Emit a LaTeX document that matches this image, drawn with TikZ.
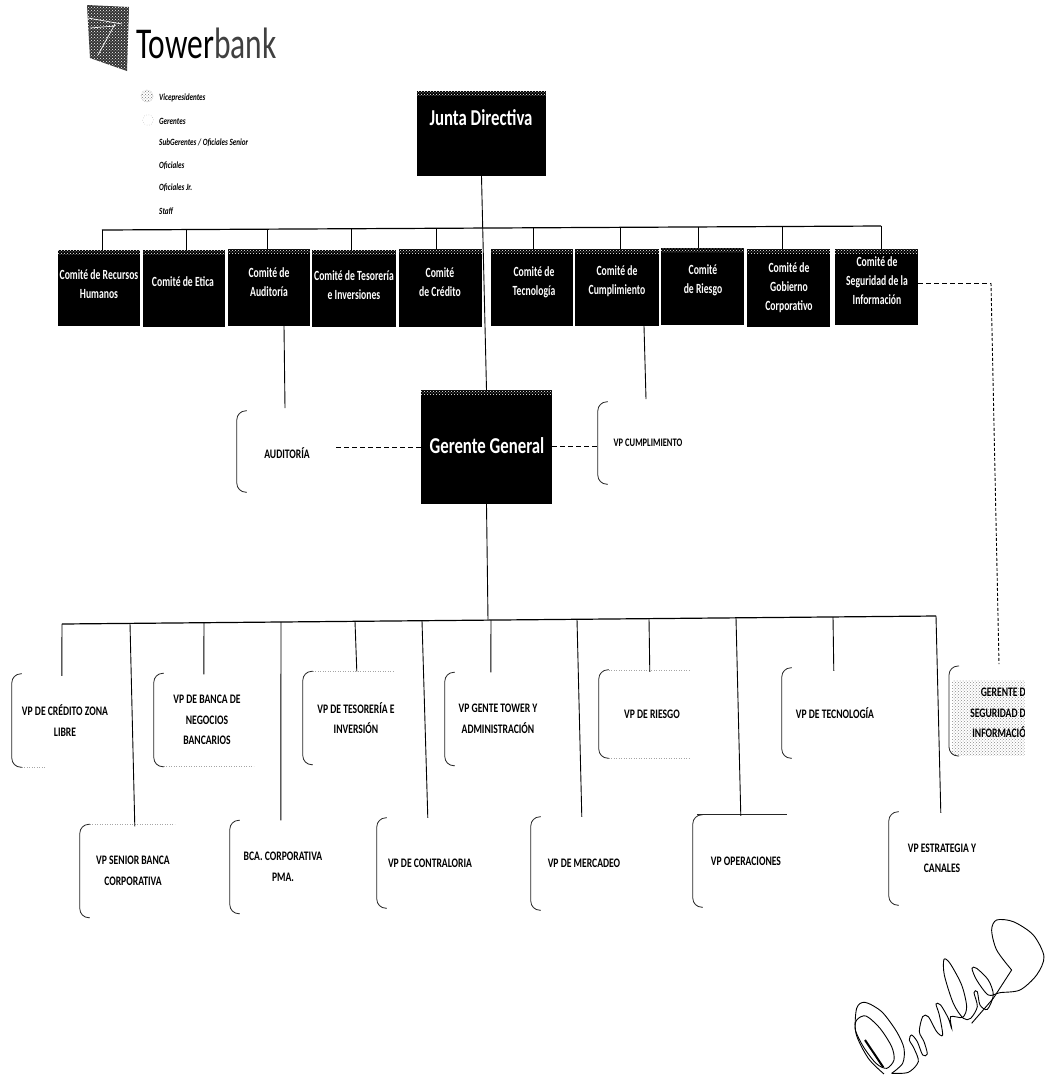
\documentclass[tikz,border=0pt]{standalone}
\usepackage{fontspec}
\usepackage{tikz}
\usetikzlibrary{patterns,calc}
\setmainfont{Carlito}
\newfontfamily\condf[FakeStretch=0.75]{Carlito}
\newfontfamily\condb[FakeStretch=0.74]{Carlito}
\newfontfamily\condc[FakeStretch=0.69]{Carlito}
\newfontfamily\logof[FakeStretch=0.715]{Carlito}
\tikzset{
  blackbox/.style={fill=black,text=white,inner sep=0pt,align=center,font=\fontsize{14}{19}\selectfont\condc\bfseries},
  bigbox/.style={fill=black,text=white,inner sep=0pt,align=center,font=\fontsize{22.7}{24}\selectfont\condb\bfseries},
  vpbox/.style={inner sep=0pt,align=center,minimum width=106pt,minimum height=93pt,font=\fontsize{13}{20.5}\selectfont\condb\bfseries},
  conn/.style={line width=0.9pt,black},
  bus/.style={line width=1.2pt,black},
  dash line/.style={line width=1pt,dash pattern=on 5pt off 3pt,black},
  bracket/.style={line width=0.8pt,black!85,rounded corners=9pt},
  faint/.style={line width=0.5pt,black!35,dotted},
  legend/.style={inner sep=0pt,anchor=west,font=\fontsize{9.5}{11}\selectfont\condf\bfseries\itshape},
  sig/.style={line width=0.9pt,black}
}
\newcommand{\brk}[1]{%
  \draw[bracket] ([xshift=10pt]#1.north west) -- (#1.north west) -- (#1.south west) -- ([xshift=10pt]#1.south west);}
\newcommand{\bkband}[1]{%
  \fill[pattern=crosshatch dots,pattern color=white] (#1.north west) rectangle ([yshift=-5pt]#1.north east);}
\begin{document}
\begin{tikzpicture}[x=1pt,y=-1pt]
\useasboundingbox (0,0) rectangle (1045,1080);
\fill[white] (0,0) rectangle (1045,1080);

% logo
\fill[black!80] (87,5) -- (129,7) -- (127,71) -- (90,58) -- cycle;
\fill[pattern=crosshatch dots,pattern color=white] (87,5) -- (129,7) -- (127,71) -- (90,58) -- cycle;
\draw[white,line width=0.7pt] (88,18) -- (122,24) (90,28) -- (115,26) (98,55) -- (115,24);
\node[inner sep=0pt,anchor=base west,font=\fontsize{44}{45}\selectfont\logof] (logo) at (136,58) {Tower\textcolor{black!75}{bank}};

% legend
\node[circle,minimum size=12pt,inner sep=0pt,draw=black!45,densely dotted,pattern=crosshatch dots,pattern color=black!55] (l1) at (147,96) {};
\node[circle,minimum size=11pt,inner sep=0pt,draw=black!45,dotted] (l2) at (148,120) {};
\node[legend] (t1) at (159,98) {Vicepresidentes};
\node[legend] (t2) at (159,121) {Gerentes};
\node[legend] (t3) at (159,143) {SubGerentes / Oficiales Senior};
\node[legend] (t4) at (159,166) {Oficiales};
\node[legend] (t5) at (159,188) {Oficiales Jr.};
\node[legend] (t6) at (159,211) {Staff};

% top boxes
\node[bigbox,minimum width=129pt,minimum height=85pt] (jd) at (481.5,133.5) {};
\node[bigbox] (jdt) at (481,118) {Junta Directiva};
\node[bigbox,minimum width=131pt,minimum height=114pt] (gg) at (486.5,447) {};
\node[bigbox] (ggt) at (487,446) {Gerente General};

% committees
\node[blackbox,minimum width=82pt,minimum height=76pt] (c1) at (99,288) {};
\node[blackbox] at (99,284) {Comité de Recursos\\Humanos};
\node[blackbox,minimum width=82pt,minimum height=77pt] (c2) at (184,288.5) {};
\node[blackbox] at (183,282) {Comité de Etica};
\node[blackbox,minimum width=82pt,minimum height=77pt] (c3) at (269,287.5) {};
\node[blackbox] at (269,282) {Comité de\\Auditoría};
\node[blackbox,minimum width=84pt,minimum height=77pt] (c4) at (354,288.5) {};
\node[blackbox] at (354,285) {Comité de Tesorería\\e Inversiones};
\node[blackbox,minimum width=83pt,minimum height=78pt] (c5) at (440.5,288) {};
\node[blackbox] at (440,282) {Comité\\de Crédito};
\node[blackbox,minimum width=82pt,minimum height=77pt] (c6) at (532,287.5) {};
\node[blackbox] at (534,282) {Comité de\\Tecnología};
\node[blackbox,minimum width=84pt,minimum height=77pt] (c7) at (617,287.5) {};
\node[blackbox] at (617,281) {Comité de\\Cumplimiento};
\node[blackbox,minimum width=83pt,minimum height=77pt] (c8) at (702.5,286.5) {};
\node[blackbox] at (703,280) {Comité\\de Riesgo};
\node[blackbox,minimum width=83pt,minimum height=78pt] (c9) at (788.5,288) {};
\node[blackbox] at (789,288) {Comité de\\Gobierno\\Corporativo};
\node[blackbox,minimum width=83pt,minimum height=76pt] (c10) at (876.5,287) {};
\node[blackbox] at (877,281) {Comité de\\Seguridad de la\\Información};
\foreach \n in {jd,gg,c1,c2,c3,c4,c5,c6,c7,c8,c9,c10} {\bkband{\n}}

% top bus
\coordinate (tl) at (102,230);
\coordinate (tr) at (881,226);
\draw[bus] (tl) -- (tr);
\foreach \n/\xa/\ya in {c1/102/230,c2/186/230,c3/267/230,c4/351/229,c5/436/229,c6/533/228,c7/620/228,c8/698/227,c9/782/227,c10/881/226}{
  \coordinate (s\n) at (\xa,\ya);
  \draw[conn] (s\n) -- (s\n |- \n.north);
}
\draw[conn] (jd.south) -- (gg.north);
\coordinate (lowjoin) at (488,620);
\draw[conn] (gg.south) -- (lowjoin);

% second level
\node[vpbox,minimum height=81pt] (au) at (290,451.5) {};
\node[vpbox] at (287,453) {AUDITORÍA};
\node[vpbox,minimum height=82pt] (vc) at (651,443) {};
\node[vpbox,font=\fontsize{11.5}{14}\selectfont\condb\bfseries] at (648,443) {VP CUMPLIMIENTO};
\brk{au}\brk{vc}
\coordinate (au1) at (284,326);
\coordinate (au2) at (285,408);
\draw[conn] (au1) -- (au2);
\coordinate (vc1) at (644,326);
\coordinate (vc2) at (646,399);
\draw[conn] (vc1) -- (vc2);
\coordinate (aud) at (336,447);
\draw[dash line] (aud) -- (aud -| gg.west);
\coordinate (vcd) at (552,446);
\draw[dash line] (vcd) -- (vcd -| vc.west);

% lower boxes
\node[vpbox] (b1) at (65,720.5) {VP DE CRÉDITO ZONA\\LIBRE};
\node[vpbox] (b2) at (207,720) {VP DE BANCA DE\\NEGOCIOS\\BANCARIOS};
\node[vpbox] (b3) at (356,718) {VP DE TESORERÍA E\\INVERSIÓN};
\node[vpbox] (b4) at (498,719) {VP GENTE TOWER Y\\ADMINISTRACIÓN};
\node[vpbox,minimum height=88pt] (b5) at (652,714) {VP DE RIESGO};
\node[vpbox,minimum height=90pt] (b6) at (835,713) {VP DE TECNOLOGÍA};
\node[vpbox] (b8) at (133,871) {VP SENIOR BANCA\\CORPORATIVA};
\node[vpbox] (b9) at (283,867) {BCA. CORPORATIVA\\PMA.};
\node[vpbox,minimum height=90pt] (b10) at (430,863) {VP DE CONTRALORIA};
\node[vpbox] (b11) at (584,863.5) {VP DE MERCADEO};
\node[vpbox,minimum height=92pt] (b12) at (746,861) {VP OPERACIONES};
\node[vpbox] (b13) at (942,858.5) {VP ESTRATEGIA Y\\CANALES};
\foreach \n in {b1,b2,b3,b4,b5,b6,b8,b9,b10,b11,b12,b13} {\brk{\n}}
\draw[faint] ([xshift=10pt]b1.south west) -- ([xshift=33pt]b1.south west);
\draw[faint] ([xshift=10pt]b2.south west) -- ([xshift=100pt]b2.south west);
\draw[faint] ([xshift=10pt]b3.north west) -- ([xshift=92pt]b3.north west);
\draw[faint] ([xshift=10pt]b5.north west) -- ([xshift=92pt]b5.north west);
\draw[faint] ([xshift=10pt]b5.south west) -- ([xshift=92pt]b5.south west);
\draw[faint] ([xshift=10pt]b8.north west) -- ([xshift=95pt]b8.north west);
\draw[bracket] ([xshift=4pt]b12.north west) -- ([xshift=94pt]b12.north west);

% stippled, cut-off box
\begin{scope}
\clip (940,650) rectangle (1024.5,770);
\fill[pattern=crosshatch dots,pattern color=black!45] (952,680) rectangle (1030,755);
\node[vpbox,minimum height=90pt,minimum width=150pt] (b7) at (1024,711) {};
\node[inner sep=0pt,anchor=east,align=right,font=\fontsize{13}{20.5}\selectfont\condb\bfseries] (b7t) at (1026,713) {GERENTE D\\SEGURIDAD D\\INFORMACIÓ};
\end{scope}
\draw[bracket] (959,666) -- (949,666) -- (949,756) -- (959,756);

% lower bus
\coordinate (ll) at (62,624);
\coordinate (lr) at (936,616);
\draw[bus] (ll) -- (lr);
\foreach \n/\xa/\ya/\dx/\dy in {b1/62/624/50/-2,b8/130/623.4/55/-2,b2/204/622.7/50/-1,b9/281/622/51/0,b3/355/621.3/54/0,b10/422/620.7/51/0,b4/491/620/46/0,b11/577/619.3/51/0,b5/649/618.6/51/-2,b12/736/617.8/48/-1,b6/833/617/52/-3,b13/936/616/52/-1}{
  \coordinate (d\n) at (\xa,\ya);
  \draw[conn] (d\n) -- ([xshift=\dx pt,yshift=\dy pt]\n.north west);
}

% dashed to stippled box
\coordinate (sd1) at (991,283);
\coordinate (sd2) at (999,664);
\draw[dash line] (c10.east |- sd1) -- (sd1);
\draw[line width=0.9pt,dash pattern=on 3pt off 2pt] (sd1) -- (sd2);

% signature
\begin{scope}[shift={(780,900)},x=0.3333pt,y=-0.3333pt]
\draw[sig] plot[smooth] coordinates {(312,522) (265,475) (228,400) (230,325) (255,307) (305,335) (350,395) (372,445) (368,490) (335,520)};
\draw[sig] plot[smooth cycle] coordinates {(230,360) (258,348) (300,385) (335,440) (342,480) (320,505) (288,490) (250,440) (226,390)};
\draw[line width=2pt] (255,420) -- (310,502);
\draw[sig] plot[smooth] coordinates {(335,520) (385,517) (415,485) (402,445) (388,420) (395,405) (412,425) (428,465) (442,462) (432,425) (418,395) (428,350) (445,350) (470,395) (488,405) (478,345) (468,312) (482,315) (505,355) (515,385) (512,350) (548,352) (560,320) (545,255) (510,190) (492,178) (493,225) (520,310) (550,355) (572,355) (592,320) (582,278) (592,275) (600,315) (622,328) (640,285) (625,240) (590,205) (576,205) (590,240) (625,285) (660,278) (720,270) (770,225) (792,170) (760,105) (700,65) (650,60) (635,90) (650,150) (695,210)};
\draw[sig] (695,210) -- (640,295) -- (575,370);
\end{scope}
\end{tikzpicture}
\end{document}
